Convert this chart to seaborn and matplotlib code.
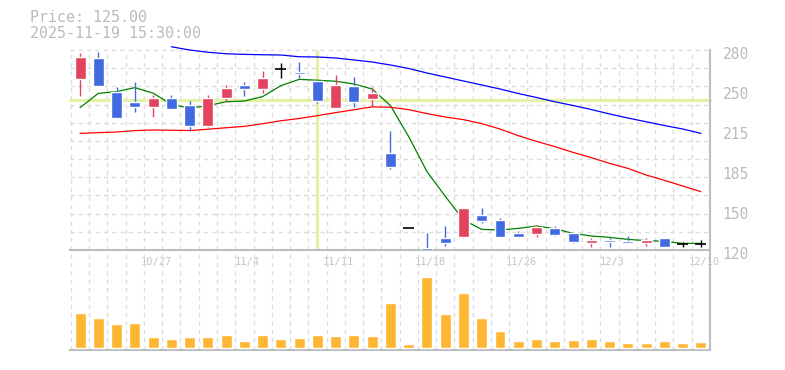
import numpy as np
import pandas as pd
import seaborn as sns
import matplotlib.pyplot as plt
from matplotlib.transforms import ScaledTranslation

# daily data
dates = ['10/21', '10/22', '10/23', '10/24', '10/27', '10/28', '10/29', '10/30', '10/31',
         '11/4', '11/5', '11/6', '11/7', '11/10', '11/11', '11/12', '11/13', '11/14',
         '11/17', '11/18', '11/19', '11/20', '11/21', '11/25', '11/26', '11/27', '11/28',
         '12/1', '12/2', '12/3', '12/4', '12/5', '12/8', '12/9', '12/10']
opens = [257.0, 273.6, 246.7, 238.4, 234.7, 241.6, 236.0, 219.2, 241.9, 252.0, 249.0, 265.0,
         262.4, 255.2, 233.9, 251.2, 240.8, 197.6, 137.3, 121.9, 129.9, 130.7, 148.0, 144.0,
         133.6, 133.1, 137.6, 133.3, 125.9, 128.0, 127.5, 125.9, 129.6, 124.5, 125.0]
highs = [277.8, 278.4, 250.7, 254.4, 243.7, 244.0, 239.2, 244.0, 252.0, 254.7, 263.2, 269.3,
         270.4, 255.2, 260.3, 258.4, 250.4, 215.2, 137.3, 133.3, 139.2, 153.6, 153.6, 145.3,
         135.2, 139.7, 139.2, 133.3, 129.3, 129.6, 131.2, 129.6, 129.6, 126.4, 128.0]
lows = [243.2, 251.2, 225.9, 230.1, 226.7, 232.8, 215.5, 218.4, 239.5, 243.5, 245.3, 257.3,
        257.8, 237.9, 233.9, 234.7, 235.2, 185.0, 137.3, 120.0, 123.2, 129.3, 141.9, 130.7,
        130.1, 130.7, 131.5, 125.6, 122.4, 122.7, 125.9, 123.5, 122.7, 122.7, 122.7]
closes = [274.2, 251.2, 225.9, 234.7, 241.3, 232.8, 219.5, 241.6, 249.6, 249.0, 257.6, 265.0,
          261.0, 239.2, 252.0, 238.4, 245.9, 186.4, 137.3, 120.0, 125.9, 153.6, 143.5, 130.7,
          130.7, 138.4, 131.7, 126.4, 128.0, 126.7, 125.9, 128.0, 122.7, 124.5, 125.0]
volume = [34700, 29700, 23700, 24700, 10700, 8700, 10700, 10700, 12700, 6700, 12700, 8700,
          9700, 12700, 11700, 12700, 11700, 44700, 3700, 70700, 33700, 54700, 29700, 16700,
          6700, 8700, 6700, 7700, 8700, 6700, 4700, 4700, 6700, 4700, 5700]
ma_short = [233.9, 245.3, 246.7, 249.9, 245.5, 236.5, 233.5, 235.5, 238.6, 239.2, 242.7, 251.5,
            256.5, 255.8, 255.0, 252.8, 248.8, 235.5, 210.7, 182.7, 163.0, 144.0, 136.5, 136.0,
            137.3, 139.2, 137.0, 133.3, 131.2, 130.1, 128.5, 127.5, 126.9, 125.3, 125.3]
ma_mid = [213.3, 213.9, 214.4, 215.5, 216.0, 215.8, 215.6, 216.6, 217.8, 218.9, 221.0, 223.4,
          225.2, 227.5, 229.9, 232.2, 234.5, 234.2, 232.3, 229.1, 226.4, 224.3, 221.1, 216.8,
          211.5, 206.9, 202.7, 198.1, 193.9, 189.3, 185.3, 180.0, 175.7, 171.2, 166.7]
ma_long = [np.nan, np.nan, np.nan, np.nan, np.nan, 282.6, 280.0, 278.2, 277.0, 276.5, 276.2,
           276.0, 274.6, 274.4, 273.6, 272.0, 270.4, 268.0, 265.2, 261.6, 258.4, 255.2, 252.0,
           248.8, 245.2, 242.0, 238.6, 235.6, 232.4, 228.8, 225.6, 222.6, 219.6, 216.8, 213.3]

tick_dates = ['10/27', '11/4', '11/11', '11/18', '11/26', '12/3', '12/10']
price_ticks = [120, 152, 184, 216, 248, 280]
price_labels = ['120', '150', '185', '215', '250', '280']
cross_date = '11/10'
cross_price = 240

df = pd.DataFrame({'date': dates, 'open': opens, 'high': highs, 'low': lows,
                   'close': closes, 'volume': volume, 'ma_short': ma_short,
                   'ma_mid': ma_mid, 'ma_long': ma_long})
df['x'] = np.arange(len(df))

RED = '#e2445f'
BLUE = '#4169e1'
GRID = '#dcdcdc'
AXIS = '#bdbdbd'

sns.set_style('white')
plt.rcParams['font.family'] = ['DejaVu Sans Mono']

fig = plt.figure(figsize=(7.85, 3.70), dpi=100)
ax = fig.add_axes([70/785, 120/370, 640/785, 200/370])
axv = fig.add_axes([70/785, 20/370, 640/785, 100/370])
axv.patch.set_visible(False)

xmin, xmax = -0.55, len(df) - 0.5

# grid
for k in range(11):
    ax.axhline(280 - k * 160 / 11, color=GRID, ls=(0, (3, 3)), lw=1, zorder=0)
ax.vlines(np.arange(-0.5, len(df)), 120, 280, color=GRID, ls=(0, (3, 3)), lw=1, zorder=0)
for gx in np.arange(-0.5, len(df)):
    axv.axvline(gx, color=GRID, ls=(0, (3, 3)), lw=1, zorder=0)

# crosshair
ax.axhline(cross_price, color='#e3f2a6', lw=2.3, zorder=1)
ax.vlines(dates.index(cross_date), 120, 280, color='#e3f2a6', lw=2.3, zorder=1)

# moving averages
sns.lineplot(data=df, x='x', y='ma_short', color='#008000', lw=0.9, ax=ax, zorder=3)
sns.lineplot(data=df, x='x', y='ma_mid', color='#ff0000', lw=0.9, ax=ax, zorder=3)
sns.lineplot(data=df.dropna(subset=['ma_long']), x='x', y='ma_long', color='#0000ff',
             lw=0.9, ax=ax, zorder=3)
for ln in ax.lines:
    ln.set_clip_on(False)

# candles
up = df.close > df.open
down = df.close < df.open
flat = df.close == df.open
cols = np.where(up, RED, np.where(down, BLUE, 'black'))
ax.vlines(df.x, df.low, df.high, colors=cols, lw=1.0, zorder=4)
body = ~flat
ax.bar(df.x[body], (df.close - df.open).abs()[body],
       bottom=np.minimum(df.open, df.close)[body], width=0.6,
       color=cols[body.values], zorder=5)
ax.hlines(df.close[flat], df.x[flat] - 0.3, df.x[flat] + 0.3, colors='black', lw=1.2, zorder=5)

ax.set_xlim(xmin, xmax)
ax.set_ylim(120, 280)
ax.set_xlabel('')
ax.set_ylabel('')
ax.spines[['left', 'top']].set_visible(False)
ax.spines[['bottom', 'right']].set_color(AXIS)
ax.spines[['bottom', 'right']].set_linewidth(1.5)
ax.yaxis.tick_right()
ax.set_yticks(price_ticks, price_labels)
ax.set_xticks([dates.index(d) for d in tick_dates], tick_dates)
ax.tick_params(axis='y', length=0, pad=9, labelsize=10.5, labelcolor='#bbbbbb')
ax.tick_params(axis='x', length=0, pad=5, labelsize=7.5, labelcolor='#c4c4c4')
for lab in ax.get_yticklabels():
    lab.set_transform(lab.get_transform() + ScaledTranslation(0, -3/100, fig.dpi_scale_trans))
for lab in ax.get_xticklabels():
    lab.set_transform(lab.get_transform() + ScaledTranslation(3/100, 0, fig.dpi_scale_trans))

# volume
sns.barplot(x=df.x, y=df.volume, color='#ffb733', saturation=1, width=0.6,
            errorbar=None, ax=axv, zorder=3)
axv.set_xlim(xmin, xmax)
vmax = df.volume.max()
axv.set_ylim(-vmax * 2.3 / 70.7, vmax * 97.7 / 70.7)
axv.set_xticks([])
axv.set_yticks([])
axv.set_xlabel('')
axv.set_ylabel('')
axv.spines[['left', 'top']].set_visible(False)
axv.spines[['bottom', 'right']].set_color(AXIS)
axv.spines[['bottom', 'right']].set_linewidth(1.5)

fig.text(30/785, 1 - 17/370, 'Price: 125.00', va='center', fontsize=10.8, color='#bbbbbb')
fig.text(30/785, 1 - 33/370, '2025-11-19 15:30:00', va='center', fontsize=10.8, color='#bbbbbb')

fig.savefig('out.png', dpi=100)
